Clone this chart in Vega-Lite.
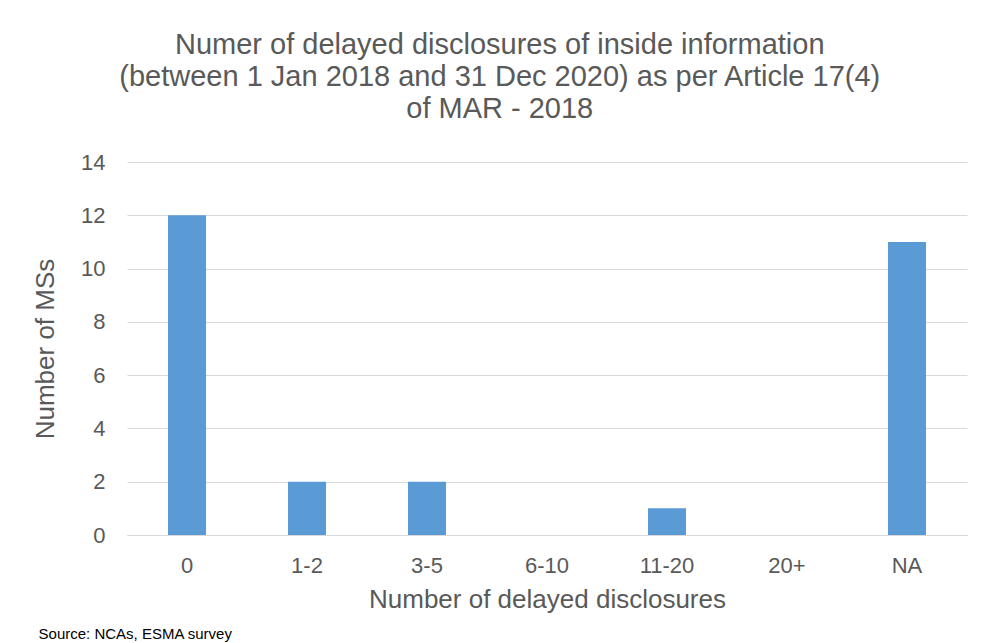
{
  "$schema": "https://vega.github.io/schema/vega-lite/v6.json",
  "padding": {"left": 32, "top": 31, "right": 15, "bottom": 0},
  "background": "white",
  "title": {
    "text": "Source: NCAs, ESMA survey",
    "orient": "bottom",
    "anchor": "start",
    "fontSize": 15,
    "fontWeight": "normal",
    "font": "Liberation Sans",
    "color": "#000000",
    "dx": 6,
    "offset": 15
  },
  "config": {
    "font": "Liberation Sans",
    "view": {"stroke": null}
  },
  "vconcat": [
    {
      "title": {
        "text": ["Numer of delayed disclosures of inside information", "(between 1 Jan 2018 and 31 Dec 2020) as per Article 17(4)", "of MAR - 2018"],
        "fontSize": 29,
        "fontWeight": "normal",
        "lineHeight": 32,
        "color": "#595959",
        "anchor": "middle",
        "frame": "bounds",
        "offset": 27
      },
      "width": 840,
      "height": 373,
      "data": {
        "values": [
          {"category": "0", "count": 12},
          {"category": "1-2", "count": 2},
          {"category": "3-5", "count": 2},
          {"category": "6-10", "count": 0},
          {"category": "11-20", "count": 1},
          {"category": "20+", "count": 0},
          {"category": "NA", "count": 11}
        ]
      },
      "mark": {"type": "bar", "color": "#5b9bd5"},
      "encoding": {
        "x": {
          "field": "category",
          "type": "nominal",
          "sort": null,
          "scale": {"paddingInner": 0.683, "paddingOuter": 0.3417},
          "axis": {
            "title": "Number of delayed disclosures",
            "titleFontSize": 26,
            "titleFontWeight": "normal",
            "titleColor": "#595959",
            "titlePadding": 10,
            "labelFontSize": 22,
            "labelColor": "#595959",
            "labelAngle": 0,
            "labelPadding": 20,
            "ticks": false,
            "domainColor": "#d9d9d9",
            "domainWidth": 1
          }
        },
        "y": {
          "field": "count",
          "type": "quantitative",
          "scale": {"domain": [0, 14]},
          "axis": {
            "title": "Number of MSs",
            "values": [0, 2, 4, 6, 8, 10, 12, 14],
            "titleFontSize": 26,
            "titleFontWeight": "normal",
            "titleColor": "#595959",
            "titlePadding": 22,
            "labelFontSize": 22,
            "labelColor": "#595959",
            "labelPadding": 22,
            "ticks": false,
            "domain": false,
            "gridColor": "#d9d9d9",
            "gridWidth": 1
          }
        }
      }
    }
  ]
}
